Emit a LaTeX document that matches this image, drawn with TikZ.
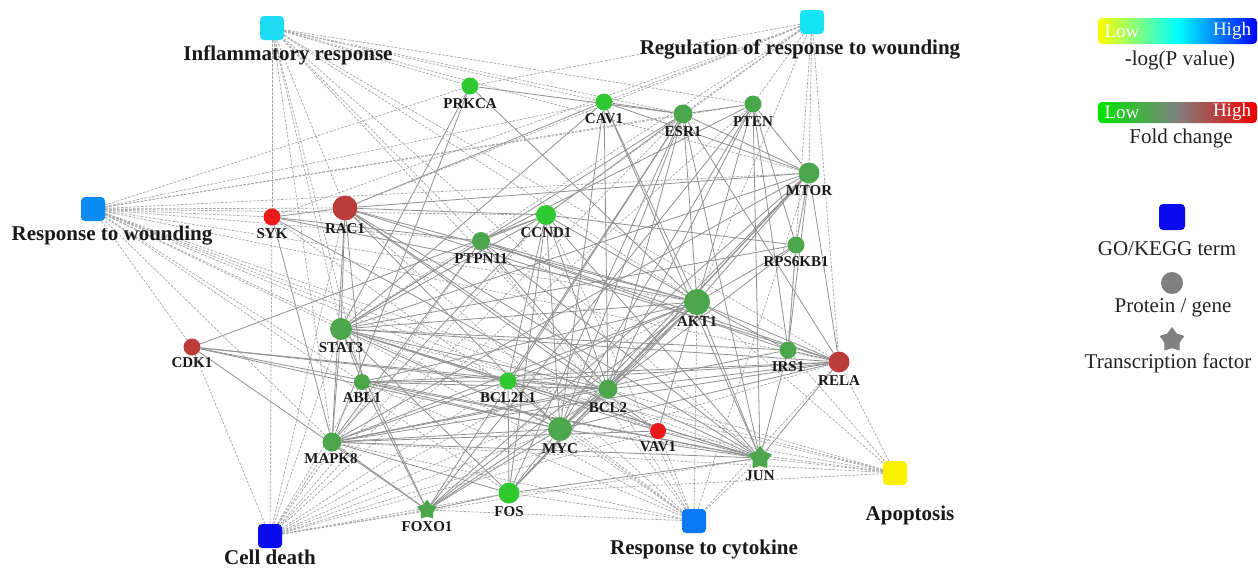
\documentclass[tikz,border=0pt]{standalone}
\usepackage{fontspec}
\setmainfont{Liberation Serif}
\usetikzlibrary{shapes.geometric}
\pgfdeclarelayer{bgfill}
\pgfdeclarelayer{edges}
\pgfsetlayers{bgfill,edges,main}
\definecolor{gbright}{HTML}{30C830}
\definecolor{gmed}{HTML}{4CA64C}
\definecolor{rbright}{HTML}{EA1A1A}
\definecolor{rdark}{HTML}{BC3C3C}
\definecolor{goir}{HTML}{1CDCF2}
\definecolor{gorrw}{HTML}{14E4F6}
\definecolor{gorw}{HTML}{0A8CF2}
\definecolor{gocd}{HTML}{0A0AEE}
\definecolor{gorc}{HTML}{0A78F2}
\definecolor{goapo}{HTML}{FAF000}
\definecolor{edgegray}{HTML}{909090}
\definecolor{dashgray}{HTML}{A4A4A4}
\definecolor{legtext}{HTML}{222222}
\begin{document}
\begin{tikzpicture}[x=1pt,y=-1pt,
  go/.style={rectangle,rounded corners=4pt,minimum size=24pt,inner sep=0pt,fill=#1},
  gene/.style={circle,inner sep=0pt,minimum size=#1},
  tf/.style={star,star points=5,star point ratio=1.6,minimum size=#1,inner sep=0pt},
  gl/.style={font=\bfseries\fontsize{15}{15}\selectfont,inner sep=0pt,text=black!90},
  tl/.style={font=\bfseries\fontsize{21}{21}\selectfont,inner sep=0pt,anchor=base,text=black!90},
  ll/.style={font=\fontsize{21}{21}\selectfont,inner sep=0pt,anchor=base,text=legtext},
  bl/.style={font=\fontsize{19}{19}\selectfont,inner sep=0pt,text=white},
  ppi/.style={draw=edgegray,line width=0.8pt},
  ann/.style={draw=dashgray,line width=0.7pt,dash pattern=on 2.5pt off 1.5pt},
]
\useasboundingbox (0,0) rectangle (1258,568);
\begin{pgfonlayer}{bgfill}
\fill[white] (0,0) rectangle (1258,568);
\end{pgfonlayer}

% GO / KEGG terms
\node[go=goir]  (ir)  at (272,28)  {};
\node[go=gorrw] (rrw) at (812,22)  {};
\node[go=gorw]  (rw)  at (93,209)  {};
\node[go=gocd]  (cd)  at (270,536) {};
\node[go=gorc]  (rc)  at (694,521) {};
\node[go=goapo] (apo) at (895,473) {};

% proteins / genes
\node[gene=17pt,fill=gbright] (prkca)  at (470,86)  {};
\node[gene=17pt,fill=gbright] (cav1)   at (604,102) {};
\node[gene=19pt,fill=gmed]    (esr1)   at (683,114) {};
\node[gene=17pt,fill=gmed]    (pten)   at (753,104) {};
\node[gene=21pt,fill=gmed]    (mtor)   at (809,173) {};
\node[gene=17pt,fill=gmed]    (rps)    at (796,245) {};
\node[gene=17pt,fill=rbright] (syk)    at (272,217) {};
\node[gene=25pt,fill=rdark]   (rac1)   at (345,208) {};
\node[gene=20pt,fill=gbright] (ccnd1)  at (546,215) {};
\node[gene=18pt,fill=gmed]    (ptpn)   at (481,241) {};
\node[gene=26pt,fill=gmed]    (akt1)   at (697,302) {};
\node[gene=22pt,fill=gmed]    (stat3)  at (341,329) {};
\node[gene=17pt,fill=rdark]   (cdk1)   at (192,347) {};
\node[gene=16pt,fill=gmed]    (abl1)   at (362,382) {};
\node[gene=17pt,fill=gbright] (bcl2l1) at (508,381) {};
\node[gene=19pt,fill=gmed]    (bcl2)   at (608,389) {};
\node[gene=24pt,fill=gmed]    (myc)    at (560,429) {};
\node[gene=16pt,fill=rbright] (vav1)   at (658,431) {};
\node[gene=19pt,fill=gmed]    (mapk8)  at (332,442) {};
\node[gene=21pt,fill=gbright] (fos)    at (509,493) {};
\node[tf=21pt,fill=gmed]      (foxo1)  at (427,510) {};
\node[tf=25pt,fill=gmed]      (jun)    at (760,458) {};
\node[gene=17pt,fill=gmed]    (irs1)   at (788,350) {};
\node[gene=21pt,fill=rdark]   (rela)   at (839,362) {};

% edges
\begin{pgfonlayer}{edges}
\foreach \a/\b in {
 rac1/syk, rac1/stat3, rac1/ccnd1, rac1/akt1, rac1/mtor, rac1/rela, rac1/jun, rac1/vav1,
 rac1/myc, rac1/abl1, rac1/mapk8, rac1/cav1, rac1/bcl2,
 syk/vav1, syk/mapk8, syk/ptpn, syk/akt1,
 cdk1/ccnd1, cdk1/bcl2l1, cdk1/bcl2, cdk1/myc, cdk1/foxo1, cdk1/jun,
 prkca/stat3, prkca/esr1, prkca/akt1, prkca/mapk8,
 cav1/esr1, cav1/akt1, cav1/jun, cav1/bcl2, cav1/myc, cav1/stat3, cav1/mtor,
 esr1/mtor, esr1/akt1, esr1/myc, esr1/bcl2, esr1/jun, esr1/ccnd1, esr1/pten, esr1/fos,
 esr1/bcl2l1, esr1/stat3, esr1/rela, esr1/foxo1,
 pten/akt1, pten/mtor, pten/irs1, pten/jun, pten/myc, pten/bcl2, pten/foxo1, pten/ptpn, pten/rps,
 mtor/rps, mtor/akt1, mtor/irs1, mtor/myc, mtor/bcl2, mtor/foxo1, mtor/stat3, mtor/mapk8,
 mtor/fos, mtor/rela,
 rps/akt1, rps/irs1, rps/ccnd1, rps/stat3, rps/bcl2,
 ccnd1/myc, ccnd1/akt1, ccnd1/stat3, ccnd1/bcl2l1, ccnd1/bcl2, ccnd1/fos, ccnd1/jun,
 ccnd1/ptpn, ccnd1/mapk8,
 ptpn/akt1, ptpn/stat3, ptpn/mapk8, ptpn/rela, ptpn/jun, ptpn/irs1, ptpn/bcl2,
 akt1/irs1, akt1/rela, akt1/jun, akt1/myc, akt1/bcl2, akt1/bcl2l1, akt1/foxo1, akt1/fos,
 akt1/mapk8, akt1/stat3, akt1/abl1, akt1/vav1,
 stat3/abl1, stat3/mapk8, stat3/myc, stat3/bcl2, stat3/bcl2l1, stat3/jun, stat3/fos,
 stat3/rela, stat3/irs1, stat3/vav1, stat3/foxo1,
 abl1/bcl2l1, abl1/myc, abl1/jun, abl1/foxo1, abl1/rela, abl1/bcl2,
 bcl2l1/bcl2, bcl2l1/myc, bcl2l1/jun, bcl2l1/fos, bcl2l1/mapk8, bcl2l1/rela,
 bcl2/myc, bcl2/jun, bcl2/fos, bcl2/rela, bcl2/mapk8, bcl2/foxo1,
 myc/jun, myc/fos, myc/rela, myc/mapk8, myc/foxo1,
 vav1/jun, vav1/mapk8,
 mapk8/jun, mapk8/fos, mapk8/foxo1, mapk8/rela, mapk8/irs1,
 fos/jun, fos/foxo1, jun/rela, jun/irs1, irs1/rela}
 \draw[ppi] (\a) -- (\b);
\foreach \a/\b in {
 ir/syk, ir/rac1, ir/stat3, ir/abl1, ir/prkca, ir/cav1, ir/esr1, ir/pten, ir/mtor, ir/rela,
 ir/akt1, ir/mapk8, ir/jun, ir/bcl2, ir/ptpn,
 rrw/prkca, rrw/cav1, rrw/esr1, rrw/pten, rrw/mtor, rrw/irs1, rrw/rela, rrw/syk, rrw/rac1,
 rrw/stat3, rrw/ccnd1, rrw/akt1,
 rw/syk, rw/rac1, rw/prkca, rw/cav1, rw/esr1, rw/pten, rw/mtor, rw/ccnd1, rw/ptpn, rw/stat3,
 rw/abl1, rw/mapk8, rw/akt1, rw/rela, rw/jun, rw/fos, rw/bcl2, rw/myc, rw/bcl2l1, rw/vav1, rw/cdk1,
 cd/cdk1, cd/stat3, cd/abl1, cd/mapk8, cd/foxo1, cd/fos, cd/myc, cd/bcl2, cd/bcl2l1, cd/akt1,
 cd/jun, cd/vav1, cd/rac1, cd/syk, cd/rela, cd/ccnd1, cd/ptpn, cd/esr1, cd/pten,
 rc/jun, rc/fos, rc/myc, rc/bcl2, rc/vav1, rc/akt1, rc/rela, rc/stat3, rc/mapk8, rc/foxo1,
 rc/ccnd1, rc/syk, rc/rac1, rc/bcl2l1, rc/abl1, rc/mtor, rc/ptpn,
 apo/jun, apo/rela, apo/irs1, apo/bcl2, apo/myc, apo/akt1, apo/fos, apo/bcl2l1, apo/stat3,
 apo/mapk8, apo/vav1}
 \draw[ann] (\a) -- (\b);
\end{pgfonlayer}

% gene labels
\node[gl] (lprkca)  at (470,104) {PRKCA};
\node[gl] (lcav1)   at (604,119) {CAV1};
\node[gl] (lesr1)   at (683,132) {ESR1};
\node[gl] (lpten)   at (753,122) {PTEN};
\node[gl] (lmtor)   at (809,191) {MTOR};
\node[gl] (lrps)    at (796,262) {RPS6KB1};
\node[gl] (lsyk)    at (272,234) {SYK};
\node[gl] (lrac1)   at (345,229) {RAC1};
\node[gl] (lccnd1)  at (546,233) {CCND1};
\node[gl] (lptpn)   at (481,259) {PTPN11};
\node[gl] (lakt1)   at (697,322) {AKT1};
\node[gl] (lstat3)  at (341,348) {STAT3};
\node[gl] (lcdk1)   at (192,363) {CDK1};
\node[gl] (labl1)   at (362,398) {ABL1};
\node[gl] (lbcl2l1) at (508,398) {BCL2L1};
\node[gl] (lbcl2)   at (608,408) {BCL2};
\node[gl] (lmyc)    at (560,449) {MYC};
\node[gl] (lvav1)   at (658,447) {VAV1};
\node[gl] (lmapk8)  at (331,459) {MAPK8};
\node[gl] (lfos)    at (509,512) {FOS};
\node[gl] (lfoxo1)  at (427,527) {FOXO1};
\node[gl] (ljun)    at (760,476) {JUN};
\node[gl] (lirs1)   at (788,367) {IRS1};
\node[gl] (lrela)   at (839,381) {RELA};

% term labels
\node[tl] (lir)  at (288,60)  {Inflammatory response};
\node[tl] (lrrw) at (800,54)  {Regulation of response to wounding};
\node[tl] (lrw)  at (112,240) {Response to wounding};
\node[tl] (lcd)  at (270,564) {Cell death};
\node[tl] (lrc)  at (704,554) {Response to cytokine};
\node[tl] (lapo) at (910,520) {Apoptosis};

% legend
\shade[left color=yellow,right color=blue,middle color=cyan,rounded corners=4pt]
  (1098,18) rectangle (1257,44);
\node[bl] (low1)  at (1122,31) {Low};
\node[bl] (high1) at (1232,31) {High};
\node[ll] (lpv) at (1180,65) {-log(P value)};
\shade[left color=green!90!black,right color=red!95!black,middle color=gray,rounded corners=4pt]
  (1098,102) rectangle (1257,123);
\node[bl] (low2)  at (1122,112) {Low};
\node[bl] (high2) at (1232,112) {High};
\node[ll] (lfc) at (1181,143) {Fold change};
\node[rectangle,rounded corners=4pt,minimum size=26pt,inner sep=0pt,fill=gocd] (legsq) at (1172,217) {};
\node[ll] (lgo) at (1167,255) {GO/KEGG term};
\node[gene=22pt,fill=gray] (legci) at (1172,283) {};
\node[ll] (lpg) at (1173,312) {Protein / gene};
\node[tf=26pt,fill=gray] (legst) at (1172,340) {};
\node[ll] (ltf) at (1168,368) {Transcription factor};
\end{tikzpicture}
\end{document}
